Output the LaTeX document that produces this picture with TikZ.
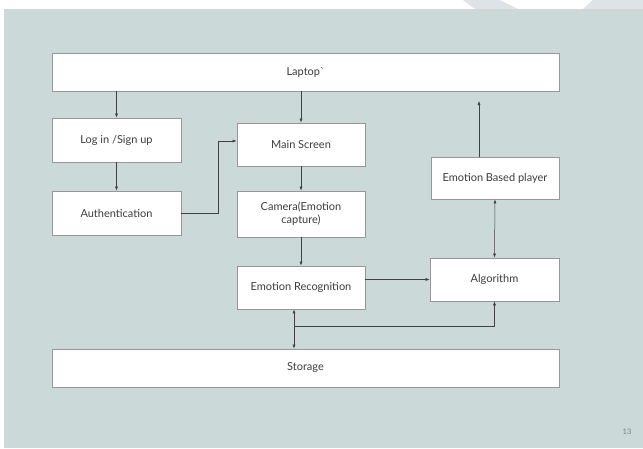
\documentclass[tikz,border=0pt]{standalone}
\usepackage{fontspec}
\setmainfont{Lato}
\usetikzlibrary{arrows.meta}
\definecolor{slidebg}{RGB}{203,217,217}
\definecolor{slidedeco}{RGB}{221,227,230}
\definecolor{boxline}{RGB}{150,152,152}
\definecolor{txt}{RGB}{60,60,60}
\begin{document}
\begin{tikzpicture}[x=1pt, y=-1pt, >={Latex[length=4pt,width=3pt]},
    blk/.style={draw=boxline, line width=0.8pt, fill=white, text=txt,
      inner sep=2pt, align=center, font=\fontsize{11}{13}\selectfont},
    arr/.style={->, draw=black!75, line width=0.5pt},
    arrb/.style={<->, draw=black!75, line width=0.5pt}]

    \useasboundingbox (0,0) rectangle (643,448);

    % slide background
    \fill[white] (0,0) rectangle (643,448);
    \fill[slidebg] (4,9) rectangle (643,448);
    \fill[slidedeco] (463,0) -- (475,9) -- (518,9) -- (500,0) -- cycle;
    \fill[slidedeco] (593,0) -- (583,9) -- (643,9) -- (643,0) -- cycle;

    % blocks
    \node[blk, minimum width=507, minimum height=38] (laptop) at (305.5,72) {Laptop\textasciigrave};
    \node[blk, minimum width=129, minimum height=44] (login) at (116.5,140) {Log in /Sign up};
    \node[blk, minimum width=129, minimum height=44] (auth) at (116.5,213) {Authentication};
    \node[blk, minimum width=128, minimum height=43] (mainscr) at (301,144.5) {Main Screen};
    \node[blk, minimum width=128, minimum height=46, text width=110] (camera) at (301,214) {Camera(Emotion\\capture)};
    \node[blk, minimum width=128, minimum height=43] (emorec) at (301,287.5) {Emotion Recognition};
    \node[blk, minimum width=129, minimum height=43] (algo) at (494.5,279.5) {Algorithm};
    \node[blk, minimum width=128, minimum height=42] (player) at (495,178) {Emotion Based player};
    \node[blk, minimum width=507, minimum height=38] (storage) at (305.5,368) {Storage};

    \node[text=black!50, font=\fontsize{7.5}{8}\selectfont] (pageno) at (627,432) {13};

    % connectors
    \coordinate (uptip) at (479,101);
    \coordinate (join) at (294,326);

    \draw[arr] (laptop.south -| login.north) -- (login.north);
    \draw[arr] (laptop.south -| mainscr.north) -- (mainscr.north);
    \draw[arr] (player.north -| uptip) -- (uptip);
    \draw[arr] (login.south) -- (auth.north);
    \draw[arr] (auth.east) -- ++(37,0) |- ([yshift=3.5pt]mainscr.west);
    \draw[arr] (mainscr.south) -- (camera.north);
    \draw[arr] (camera.south) -- (emorec.north);
    \draw[arr] (emorec.east |- algo.west) -- (algo.west);
    \draw[arrb] (player.south) -- (algo.north);
    \draw[arrb] (emorec.south -| join) -- (storage.north -| join);
    \draw[arr] (join) -| (algo.south);

\end{tikzpicture}
\end{document}
